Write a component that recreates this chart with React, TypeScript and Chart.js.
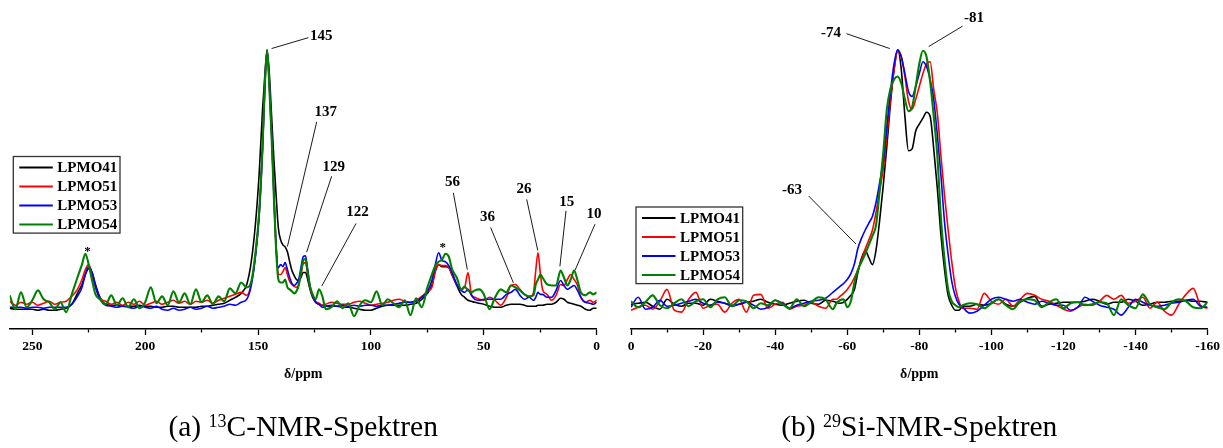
import { useEffect, useRef } from 'react';
import { Chart, registerables } from 'chart.js';

Chart.register(...registerables);

const FONT = '"Liberation Serif", "Times New Roman", serif';

const seriesNames = ['LPMO41', 'LPMO51', 'LPMO53', 'LPMO54'];
const seriesColors = ['#000000', '#ff0000', '#0000ff', '#008000'];
const seriesWidths = [1.6, 1.6, 1.6, 2.1];

// ---------- 13C panel ----------
const c13Ppm = [
  260, 257.5, 255, 252.5, 250, 247.5, 245, 242.5, 240, 237.5, 235, 232.5, 230, 228, 226.5, 225, 223.5, 222, 220,
  217.5, 215, 212.5, 210, 207.5, 205, 202.5, 200, 197.5, 195, 192.5, 190, 187.5, 185, 182.5, 180, 177.5, 175, 172.5, 170, 167.5, 165, 162.5, 160, 157.5,
  155, 153, 151, 149.5, 148, 147,
  146, 145, 144, 143, 142, 141, 140, 139, 138, 137, 136, 135, 134, 133, 132, 131, 130, 129, 128, 127, 126,
  124.5, 123, 121.5, 120,
  117.5, 115, 112.5, 110, 107.5, 105, 102.5, 100, 97.5, 95, 92.5, 90, 87.5, 85, 82.5, 80, 77.5, 75,
  73, 71.5, 70, 68.5, 67, 65.5, 64, 62, 60, 58.5, 57, 55.5, 54, 52, 50,
  47.5, 45, 42.5, 40, 38, 36, 34, 32, 30, 28, 27, 26, 25, 24, 22, 20, 18, 16, 14.5, 13, 11.5, 10, 8.5, 7, 5, 3, 1.5, 0,
];
const c13LPMO41 = [
  21, 20, 20, 20, 20, 19, 20, 19, 19, 20, 21, 25, 36, 45, 55, 61, 57, 45, 32,
  25, 24, 24, 23, 23, 23, 24, 23, 23, 22, 22, 23, 23, 22, 22, 22, 22, 23, 23, 24, 25, 26, 29, 32, 36,
  45, 68, 110, 157, 222, 256,
  281, 258, 215, 172, 135, 102, 90, 85, 83, 78, 68, 59, 54, 50, 49, 52, 57, 57, 50, 40, 33,
  27, 25, 24, 23,
  23, 23, 22, 22, 21, 20, 19, 19, 21, 23, 24, 24, 24, 24, 25, 26, 30, 36,
  44, 58, 65, 63, 63, 62, 54, 44, 35, 32, 29, 28, 27, 26, 25,
  23, 22, 22, 24, 25, 25, 25, 24, 23, 23, 23, 24, 24, 24, 25, 25, 27, 31, 30, 27, 26, 25, 24, 23, 20, 19, 21, 21,
];
const c13LPMO51 = [
  28, 24, 27, 25, 27, 24, 26, 28, 25, 27, 28, 33, 40, 50, 60, 65, 55, 42, 31,
  28, 25, 27, 24, 27, 25, 28, 24, 26, 28, 25, 27, 29, 26, 28, 25, 28, 27, 29, 26, 29, 31, 33, 35, 37,
  34, 46, 78, 117, 184, 245,
  282, 246, 196, 136, 82, 55, 55, 58, 62, 55, 48, 45, 43, 42, 45, 55, 66, 67, 55, 42, 34,
  28, 26, 24, 25,
  27, 26, 25, 25, 27, 28, 26, 24, 25, 26, 27, 29, 30, 28, 27, 29, 33, 38,
  42, 59, 65, 64, 64, 62, 55, 45, 40, 42, 57, 35, 32, 30, 29,
  32, 29, 24, 32, 44, 45, 40, 35, 32, 37, 59, 77, 57, 40, 35, 29, 34, 45, 44, 50, 55, 50, 44, 32, 27, 29, 27, 29,
];
const c13LPMO53 = [
  22, 22, 22, 21, 22, 22, 21, 22, 22, 22, 22, 25, 33, 42, 55, 63, 57, 43, 30,
  24, 23, 22, 23, 22, 21, 23, 22, 21, 23, 20, 19, 21, 19, 20, 22, 20, 21, 23, 21, 22, 23, 25, 24, 27,
  30, 44, 76, 115, 182, 244,
  281, 248, 198, 138, 84, 62, 65, 63, 67, 60, 52, 46, 44, 46, 50, 62, 73, 74, 60, 44, 35,
  27, 25, 22, 23,
  24, 23, 24, 23, 24, 23, 24, 24, 23, 24, 24, 25, 26, 27, 27, 28, 32, 38,
  49, 65, 77, 69, 68, 64, 57, 45, 39, 37, 40, 34, 30, 29, 30,
  30, 30, 30, 35, 37, 40, 34, 30, 32, 29, 32, 37, 35, 35, 32, 32, 39, 49, 44, 40, 42, 44, 39, 32, 27, 26, 25, 27,
];
const c13LPMO54 = [
  34, 20, 37, 22, 29, 39, 30, 27, 20, 27, 17, 35, 52, 65, 76, 65, 49, 35, 30,
  25, 34, 24, 31, 22, 30, 21, 27, 42, 26, 33, 24, 38, 27, 36, 25, 40, 27, 34, 25, 33, 28, 41, 36, 47,
  42, 48, 80, 118, 185, 246,
  282, 244, 194, 134, 80, 50, 47, 47, 50, 42, 40, 38, 36, 38, 44, 57, 69, 71, 57, 43, 36,
  30, 40, 33, 20,
  22, 28, 21, 26, 13, 24, 29, 27, 38, 24, 30, 26, 22, 29, 14, 31, 22, 42,
  55, 64, 68, 70, 76, 73, 60, 52, 40, 43, 39, 37, 39, 40, 35,
  20, 32, 40, 37, 44, 42, 39, 35, 33, 34, 45, 50, 55, 52, 45, 44, 44, 59, 52, 44, 50, 59, 49, 37, 34, 37, 35, 37,
];
const c13TickValues = [0, 25, 50, 75, 100, 125, 150, 175, 200, 225, 250];

// ---------- 29Si panel ----------
const si29Ppm = [
  0, -2, -4, -6, -8, -10, -12, -14, -16, -18, -20, -22, -24, -26, -28, -30, -32, -34, -36, -38, -40, -42, -44, -46, -48, -50, -52, -54, -56,
  -57, -58, -59, -60, -61, -62, -63, -64, -65, -66, -67, -68, -69, -70, -71, -72, -73, -74, -75, -76, -77, -78, -79, -80, -81, -82, -83, -84, -85, -86, -87, -88, -89, -90, -91, -92,
  -94, -96, -98, -100, -102, -104, -106, -108, -110, -112, -114, -116, -118, -120, -122, -124, -126, -128, -130, -132, -134, -136, -138, -140, -142, -144, -146, -148, -150, -152, -154, -156, -158, -160,
];
const si29LPMO41 = [
  25, 26, 27, 23, 20, 30, 25, 23, 26, 26, 24, 30, 28, 26, 24, 25, 27, 28, 30, 27, 25, 24, 26, 28, 29, 26, 25, 29, 28,
  27, 26, 27, 30, 34, 40, 58, 72, 79, 72, 65, 80, 110, 145, 185, 228, 262, 282, 262, 215, 180, 182, 200, 207, 213, 219, 215, 182, 142, 95, 60, 34, 24, 19, 19, 23,
  23, 25, 24, 26, 30, 25, 23, 27, 31, 33, 23, 25, 26, 27, 27, 27, 28, 30, 28, 25, 27, 27, 30, 28, 24, 25, 27, 27, 28, 28, 29, 28, 28, 27,
];
const si29LPMO51 = [
  19, 22, 24, 20, 28, 40, 19, 17, 30, 37, 21, 24, 25, 17, 26, 30, 17, 34, 35, 21, 25, 27, 20, 23, 24, 27, 23, 21, 30,
  30, 33, 36, 40, 45, 52, 60, 70, 81, 90, 100, 118, 140, 162, 195, 232, 262, 280, 275, 255, 230, 222, 232, 245, 258, 268, 270, 242, 218, 175, 135, 100, 68, 42, 28, 21,
  21, 20, 36, 28, 25, 30, 23, 30, 36, 34, 30, 28, 24, 20, 18, 22, 25, 24, 28, 34, 30, 34, 26, 28, 32, 21, 27, 18, 14, 25, 35, 41, 24, 21,
];
const si29LPMO53 = [
  22, 32, 20, 22, 29, 23, 24, 26, 28, 30, 26, 24, 27, 26, 23, 25, 27, 24, 20, 22, 29, 26, 21, 24, 26, 28, 29, 31, 37,
  40, 43, 46, 50, 56, 66, 82, 92, 100, 107, 114, 128, 148, 170, 205, 240, 268, 282, 275, 258, 240, 235, 245, 258, 270, 265, 252, 232, 196, 155, 108, 75, 48, 33, 25, 22,
  16, 18, 24, 30, 32, 30, 28, 30, 27, 25, 28, 26, 24, 24, 19, 22, 32, 28, 24, 22, 20, 14, 22, 30, 27, 24, 23, 24, 26, 27, 29, 30, 23, 22,
];
const si29LPMO54 = [
  28, 22, 27, 34, 24, 21, 26, 30, 23, 28, 30, 22, 30, 32, 23, 29, 28, 21, 26, 24, 29, 25, 21, 30, 23, 27, 32, 30, 20,
  26, 29, 30, 22, 28, 47, 60, 68, 76, 85, 94, 105, 140, 178, 222, 243, 252, 255, 248, 232, 220, 224, 245, 268, 281, 275, 250, 215, 175, 112, 70, 40, 28, 24, 22, 24,
  26, 25, 21, 26, 30, 24, 20, 28, 30, 29, 22, 27, 30, 21, 26, 27, 24, 25, 27, 26, 14, 30, 24, 21, 35, 25, 22, 20, 27, 30, 28, 22, 21, 27,
];
const si29TickValues = [0, -10, -20, -30, -40, -50, -60, -70, -80, -90, -100, -110, -120, -130, -140, -150, -160];

// annotations: label text at (x, y) in data units, leader line from (x1, y1) to (x2, y2)
type Note = { text: string; x: number; y: number; line?: [number, number, number, number]; star?: boolean };
const c13Notes: Note[] = [
  { text: '145', x: 122.0, y: 296, line: [127.7, 294.3, 144.0, 283.3] },
  { text: '137', x: 120.0, y: 219.3, line: [124.0, 209.3, 137.0, 83.3] },
  { text: '129', x: 116.5, y: 163.3, line: [117.4, 154.3, 128.5, 77.6] },
  { text: '122', x: 106.0, y: 117.6, line: [106.6, 106.6, 121.8, 43.3] },
  { text: '56', x: 63.9, y: 148.3, line: [63.5, 137.6, 57.3, 59.9] },
  { text: '36', x: 48.4, y: 112.6, line: [47.0, 102.6, 36.9, 46.6] },
  { text: '26', x: 32.2, y: 140.9, line: [31.0, 130.9, 26.1, 79.3] },
  { text: '15', x: 13.3, y: 128.6, line: [13.6, 119.3, 16.3, 63.3] },
  { text: '10', x: 1.2, y: 115.9, line: [0.75, 105.9, 9.6, 59.3] },
  { text: '*', x: 225.5, y: 78, star: true },
  { text: '*', x: 68.2, y: 82.5, star: true },
];
const si29Notes: Note[] = [
  { text: '-74', x: -55.5, y: 299.3, line: [-59.8, 298.3, -71.8, 283.3] },
  { text: '-81', x: -95.2, y: 313.6, line: [-92.0, 305.9, -82.6, 285.3] },
  { text: '-63', x: -44.7, y: 139.9, line: [-49.3, 134.3, -62.4, 85.9] },
];

type Panel = {
  ppm: number[];
  series: number[][];
  ticks: number[];
  labelStep: number;
  min: number;
  max: number;
  notes: Note[];
  legend: { dx: number; dy: number };
  caption: [string, string, string];
  width: number;
  left: number;
  padding: { left: number; right: number; top: number; bottom: number };
};

const panels: Panel[] = [
  {
    ppm: c13Ppm,
    series: [c13LPMO41, c13LPMO51, c13LPMO53, c13LPMO54],
    ticks: c13TickValues,
    labelStep: 50,
    min: 0,
    max: 260,
    notes: c13Notes,
    legend: { dx: 3.6, dy: 124.5 },
    caption: ['(a) ', '13', 'C-NMR-Spektren'],
    width: 615,
    left: 0,
    padding: { left: 9.7, right: 18.3, top: 32, bottom: 61 },
  },
  {
    ppm: si29Ppm,
    series: [si29LPMO41, si29LPMO51, si29LPMO53, si29LPMO54],
    ticks: si29TickValues,
    labelStep: 20,
    min: -160,
    max: 0,
    notes: si29Notes,
    legend: { dx: 5, dy: 175 },
    caption: ['(b) ', '29', 'Si-NMR-Spektren'],
    width: 608,
    left: 615,
    padding: { left: 16, right: 13, top: 32, bottom: 61 },
  },
];

function makeOverlay(p: Panel) {
  return {
    id: 'overlay',
    afterDraw(chart: any) {
      const { ctx, chartArea, scales } = chart;
      const xs = scales.x;
      const ys = scales.y;
      ctx.save();
      // annotations
      for (const n of p.notes) {
        if (n.line) {
          ctx.strokeStyle = '#000';
          ctx.lineWidth = 0.9;
          ctx.beginPath();
          ctx.moveTo(xs.getPixelForValue(n.line[0]), ys.getPixelForValue(n.line[1]));
          ctx.lineTo(xs.getPixelForValue(n.line[2]), ys.getPixelForValue(n.line[3]));
          ctx.stroke();
        }
        ctx.fillStyle = '#000';
        ctx.font = n.star ? `bold 13px ${FONT}` : `bold 15px ${FONT}`;
        ctx.textAlign = 'center';
        ctx.textBaseline = 'middle';
        ctx.fillText(n.text, xs.getPixelForValue(n.x), ys.getPixelForValue(n.y));
      }
      // legend
      const lx = chartArea.left + p.legend.dx;
      const ly = chartArea.top + p.legend.dy;
      ctx.fillStyle = '#fff';
      ctx.fillRect(lx, ly, 106.7, 76.6);
      ctx.strokeStyle = '#333';
      ctx.lineWidth = 1.3;
      ctx.strokeRect(lx, ly, 106.7, 76.6);
      chart.data.datasets.forEach((ds: any, i: number) => {
        const yy = ly + 11 + i * 19;
        ctx.strokeStyle = ds.borderColor;
        ctx.lineWidth = 2;
        ctx.beginPath();
        ctx.moveTo(lx + 6, yy);
        ctx.lineTo(lx + 39.5, yy);
        ctx.stroke();
        ctx.fillStyle = '#000';
        ctx.font = `bold 15px ${FONT}`;
        ctx.textAlign = 'left';
        ctx.textBaseline = 'middle';
        ctx.fillText(ds.label, lx + 44, yy + 1);
      });
      // caption
      const [pre, sup, post] = p.caption;
      const mainFont = `29.5px ${FONT}`;
      const supFont = `18px ${FONT}`;
      ctx.font = mainFont;
      const w1 = ctx.measureText(pre).width;
      const w3 = ctx.measureText(post).width;
      ctx.font = supFont;
      const w2 = ctx.measureText(sup).width;
      const total = w1 + w2 + w3;
      const cx = (chartArea.left + chartArea.right) / 2;
      let x0 = cx - total / 2;
      const base = chart.height - 12;
      ctx.fillStyle = '#000';
      ctx.textAlign = 'left';
      ctx.textBaseline = 'alphabetic';
      ctx.font = mainFont;
      ctx.fillText(pre, x0, base);
      x0 += w1;
      ctx.font = supFont;
      ctx.fillText(sup, x0, base - 9.5);
      x0 += w2;
      ctx.font = mainFont;
      ctx.fillText(post, x0, base);
      ctx.restore();
    },
  };
}

function PanelChart({ p }: { p: Panel }) {
  const ref = useRef<HTMLCanvasElement | null>(null);
  useEffect(() => {
    if (!ref.current) return;
    const chart = new Chart(ref.current, {
      type: 'line',
      data: {
        datasets: seriesNames.map((name, i) => ({
          label: name,
          data: p.ppm.map((x, j) => ({ x, y: p.series[i][j] })),
          borderColor: seriesColors[i],
          backgroundColor: seriesColors[i],
          borderWidth: seriesWidths[i],
          pointRadius: 0,
          tension: 0.4,
          cubicInterpolationMode: 'monotone',
          fill: false,
          order: 3 - i,
        })),
      },
      options: {
        animation: false,
        responsive: false,
        maintainAspectRatio: false,
        events: [],
        layout: { padding: p.padding },
        plugins: { legend: { display: false }, tooltip: { enabled: false } },
        scales: {
          x: {
            type: 'linear',
            min: p.min,
            max: p.max,
            reverse: true,
            afterBuildTicks: (s: any) => {
              s.ticks = p.ticks.map((v) => ({ value: v }));
            },
            ticks: {
              autoSkip: false,
              maxRotation: 0,
              minRotation: 0,
              padding: 3,
              color: '#000',
              font: { family: FONT, size: 13.5, weight: 'bold' },
              callback: (v: any) => (Number(v) % p.labelStep === 0 ? String(v) : ''),
            },
            grid: {
              drawOnChartArea: false,
              drawTicks: true,
              tickLength: 6,
              tickColor: '#000',
              tickWidth: 1.3,
              tickBorderDash: (c: any) =>
                c.tick && Number(c.tick.value) % p.labelStep !== 0 ? [3, 40] : [],
            },
            border: { display: true, color: '#000', width: 1.5 },
            title: {
              display: true,
              text: 'δ/ppm',
              color: '#000',
              font: { family: FONT, size: 14, weight: 'bold' },
              padding: { top: 9, bottom: 4 },
            },
          },
          y: { type: 'linear', display: false, min: 0, max: 300 },
        },
      },
      plugins: [makeOverlay(p)],
    } as any);
    return () => chart.destroy();
  }, [p]);
  return (
    <canvas
      ref={ref}
      width={p.width}
      height={448}
      style={{ position: 'absolute', left: p.left, top: 0, width: p.width, height: 448, display: 'block' }}
    />
  );
}

export default function App() {
  return (
    <div style={{ position: 'absolute', left: 0, top: 0, width: 1223, height: 448, background: '#fff', overflow: 'hidden' }}>
      {panels.map((p, i) => (
        <PanelChart key={i} p={p} />
      ))}
    </div>
  );
}
